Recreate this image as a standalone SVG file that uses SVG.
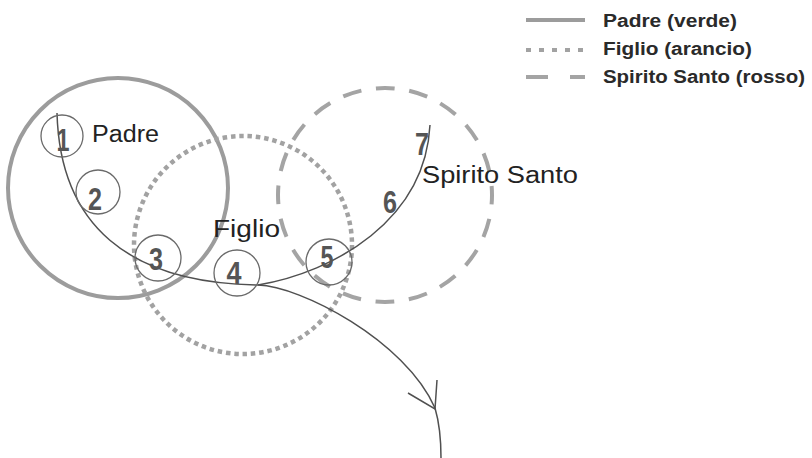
<svg xmlns="http://www.w3.org/2000/svg" width="812" height="458" viewBox="0 0 812 458">
<style>
.big{fill:none;stroke:#9c9c9c;stroke-width:4}
.figlio{stroke-dasharray:4.5 3.85;stroke:#a2a2a2;stroke-width:4.5}
.spirito{stroke-dasharray:19 14.6;stroke-dashoffset:9.5;stroke:#a4a4a4}
.node circle{fill:none;stroke:#6a6a6a;stroke-width:1.3}
.num{font-family:"Liberation Sans",Arial,sans-serif;font-size:31px;font-weight:bold;fill:#555;text-anchor:middle}
.lbl{font-family:"Liberation Sans",Arial,sans-serif;font-size:23px;fill:#222}
.leg{font-family:"Liberation Sans",Arial,sans-serif;font-size:18px;font-weight:bold;fill:#2a2a2a}
.conn{fill:none;stroke:#505050;stroke-width:1.5}
</style>
<g id="legend">
<line x1="526" y1="20" x2="585" y2="20" class="big"/>
<line x1="526" y1="50" x2="585" y2="50" class="big" style="stroke-dasharray:5 8;stroke:#a2a2a2"/>
<line x1="526" y1="77" x2="585" y2="77" class="big" style="stroke-dasharray:22 22;stroke:#a4a4a4"/>
<text x="603" y="27" class="leg" textLength="134" lengthAdjust="spacingAndGlyphs">Padre (verde)</text>
<text x="603" y="55" class="leg" textLength="149" lengthAdjust="spacingAndGlyphs">Figlio (arancio)</text>
<text x="603" y="83" class="leg" textLength="202" lengthAdjust="spacingAndGlyphs">Spirito Santo (rosso)</text>
</g>
<g id="padre">
<circle cx="118" cy="188" r="110" class="big"/>
<text x="92" y="142" class="lbl" textLength="67" lengthAdjust="spacingAndGlyphs">Padre</text>
</g>
<g id="figlio">
<circle cx="243" cy="245" r="109" class="big figlio"/>
<text x="213" y="237" class="lbl" textLength="67" lengthAdjust="spacingAndGlyphs">Figlio</text>
</g>
<g id="spirito">
<circle cx="385" cy="195" r="107" class="big spirito"/>
<text x="422" y="183" class="lbl" textLength="156" lengthAdjust="spacingAndGlyphs">Spirito Santo</text>
</g>
<g id="connectors">
<path class="conn" d="M57,113 C60,225 128,283 258,285 C300,286 405,340 435,408 C440,425 441,440 441,458"/>
<path class="conn" d="M258,285 C335,272 425,220 430,125"/>
<polyline class="conn" points="408,393 435,409 437,380"/>
</g>
<g id="n1" class="node"><circle cx="62" cy="136" r="21"/><text x="63" y="151" class="num" textLength="13" lengthAdjust="spacingAndGlyphs">1</text></g>
<g id="n2" class="node"><circle cx="98" cy="192" r="22"/><text x="95" y="210" class="num" textLength="14" lengthAdjust="spacingAndGlyphs">2</text></g>
<g id="n3" class="node"><circle cx="158" cy="258" r="23"/><text x="156" y="270" class="num" textLength="14" lengthAdjust="spacingAndGlyphs">3</text></g>
<g id="n4" class="node"><circle cx="237" cy="273" r="23"/><text x="234" y="284" class="num" textLength="15" lengthAdjust="spacingAndGlyphs">4</text></g>
<g id="n5" class="node"><circle cx="329" cy="262" r="23"/><text x="327" y="268" class="num" textLength="13" lengthAdjust="spacingAndGlyphs">5</text></g>
<g id="n6" class="node"><text x="390" y="213" class="num" textLength="14" lengthAdjust="spacingAndGlyphs">6</text></g>
<g id="n7" class="node"><text x="422" y="155" class="num" textLength="14" lengthAdjust="spacingAndGlyphs">7</text></g>
</svg>
